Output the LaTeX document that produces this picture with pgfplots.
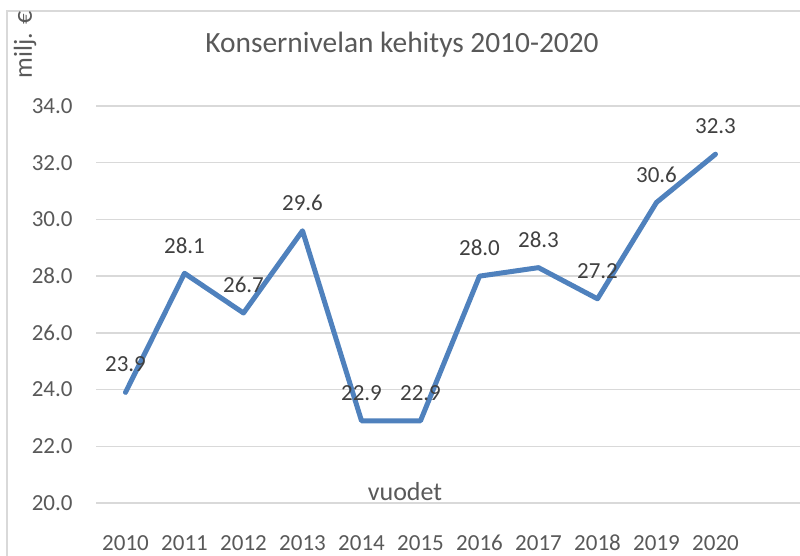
\documentclass[border=0pt]{standalone}
\usepackage{pgfplots}
\pgfplotsset{compat=1.18}
\usepackage{fontspec}
\setmainfont{Carlito}
\definecolor{linec}{RGB}{79,129,189}
\definecolor{gridc}{RGB}{217,217,217}
\definecolor{txtc}{RGB}{89,89,89}
\definecolor{lblc}{RGB}{64,64,64}
\begin{document}
\begin{tikzpicture}
\path[use as bounding box, clip] (0,0) rectangle (400bp,278bp);
% chart frame (cropped on right and bottom)
\draw[gridc, line width=0.8bp] (3.5bp,-20bp) -- (3.5bp,272.5bp) -- (420bp,272.5bp);
\begin{axis}[
    at={(48bp,26.5bp)}, anchor=south west,
    scale only axis,
    width=354bp, height=198.5bp,
    xmin=-0.5, xmax=11.5,
    ymin=20, ymax=34,
    ytick={20,22,...,34},
    xtick={0,...,10},
    xticklabels={2010,2011,2012,2013,2014,2015,2016,2017,2018,2019,2020},
    ymajorgrids,
    grid style={gridc, line width=0.7bp},
    axis line style={draw=none},
    major tick length=0pt,
    clip=false,
    /pgf/number format/assume math mode=true,
    yticklabel style={/pgf/number format/.cd, fixed, fixed zerofill, precision=1, /tikz/.cd,
        anchor=east, inner sep=0pt, xshift=-11.5bp, font=\fontsize{11.5bp}{13bp}\selectfont, text=txtc},
    xticklabel style={anchor=center, inner sep=0pt, yshift=-20bp,
        font=\fontsize{11.5bp}{13bp}\selectfont, text=txtc},
    nodes near coords={\pgfmathprintnumber[fixed, fixed zerofill, precision=1]{\pgfplotspointmeta}},
    nodes near coords style={anchor=center, inner sep=0pt, yshift=14bp,
        font=\fontsize{11.5bp}{13bp}\selectfont, text=lblc},
]
\addplot[linec, line width=2.5bp, line join=round, line cap=round, mark=none] coordinates {
    (0,23.9) (1,28.1) (2,26.7) (3,29.6) (4,22.9) (5,22.9)
    (6,28.0) (7,28.3) (8,27.2) (9,30.6) (10,32.3)
};
\end{axis}
\node[text=txtc, font=\fontsize{14.7bp}{17bp}\selectfont] at (201bp,255.5bp) {Konsernivelan kehitys 2010-2020};
\node[text=txtc, font=\fontsize{13bp}{15bp}\selectfont, rotate=90] at (12.5bp,255.5bp) {milj. €};
\node[text=txtc, font=\fontsize{13bp}{15bp}\selectfont] at (202.5bp,32bp) {vuodet};
\end{tikzpicture}
\end{document}
